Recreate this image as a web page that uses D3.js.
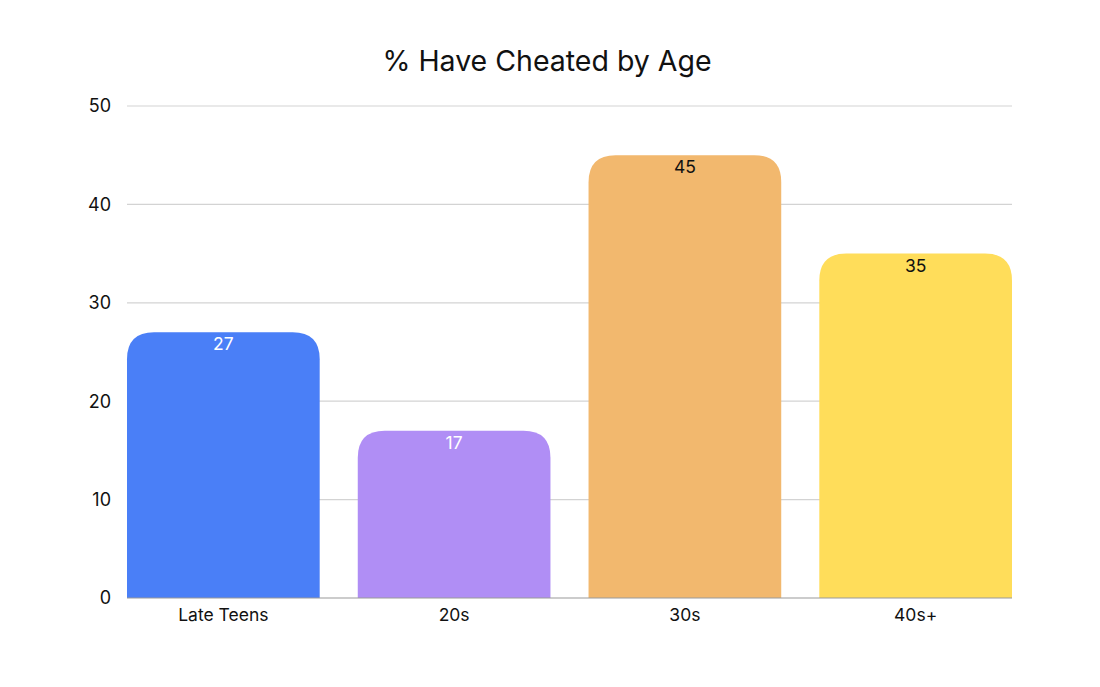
<!DOCTYPE html>
<html>
<head>
<meta charset="utf-8">
<script src="https://cdn.jsdelivr.net/npm/d3@7"></script>
<style>
  html, body { margin: 0; padding: 0; background: #fff; }
  svg { display: block; font-family: Inter, "Open Sans", sans-serif; }
</style>
</head>
<body>
<svg id="chart" width="1100" height="687"></svg>
<script>
// chart data
const categories = ['Late Teens', '20s', '30s', '40s+']
const values = [27, 17, 45, 35]
const barColors = ['#4a7ff7', '#b08ef5', '#f2b86e', '#ffdd5a']
const labelColors = ['#ffffff', '#ffffff', '#111111', '#111111']
const yTicks = [0, 10, 20, 30, 40, 50]

const svg = d3.select('#chart')
const margin = { top: 106, right: 88, bottom: 89, left: 127 }
const width = 1100 - margin.left - margin.right
const height = 687 - margin.top - margin.bottom

const g = svg.append('g').attr('transform', `translate(${margin.left},${margin.top})`)

const x = d3.scaleBand().domain(categories).range([0, width]).paddingInner(0.165).paddingOuter(0)
const y = d3.scaleLinear().domain([0, 50]).range([height, 0])

// title
svg.append('text')
  .attr('x', 547).attr('y', 71)
  .attr('text-anchor', 'middle')
  .attr('font-size', 28.5)
  .attr('fill', '#111')
  .text('% Have Cheated by Age')

// gridlines
g.selectAll('.grid')
  .data(yTicks.filter(d => d > 0))
  .enter().append('line')
  .attr('x1', 0).attr('x2', width)
  .attr('y1', d => y(d)).attr('y2', d => y(d))
  .attr('stroke', '#d3d3d3').attr('stroke-width', 1.2)

// y tick labels
g.selectAll('.ylab')
  .data(yTicks)
  .enter().append('text')
  .attr('x', -16).attr('y', d => y(d))
  .attr('dy', '0.35em')
  .attr('text-anchor', 'end')
  .attr('font-size', 18)
  .attr('fill', '#111')
  .text(d => d)

// rounded-top bars
const r = 27
function barPath(x0, w, yTop, yBot) {
  const rr = Math.min(r, (yBot - yTop), w / 2)
  return `M${x0},${yBot}V${yTop + rr}Q${x0},${yTop} ${x0 + rr},${yTop}H${x0 + w - rr}Q${x0 + w},${yTop} ${x0 + w},${yTop + rr}V${yBot}Z`
}

g.selectAll('.bar')
  .data(values)
  .enter().append('path')
  .attr('d', (d, i) => barPath(x(categories[i]), x.bandwidth(), y(d), y(0)))
  .attr('fill', (d, i) => barColors[i])

// baseline
g.append('line')
  .attr('x1', 0).attr('x2', width)
  .attr('y1', y(0)).attr('y2', y(0))
  .attr('stroke', '#9a9a9a').attr('stroke-width', 1.2)

// value labels
g.selectAll('.val')
  .data(values)
  .enter().append('text')
  .attr('x', (d, i) => x(categories[i]) + x.bandwidth() / 2)
  .attr('y', d => y(d) + 18)
  .attr('text-anchor', 'middle')
  .attr('font-size', 17.5)
  .attr('fill', (d, i) => labelColors[i])
  .text(d => d)

// x labels
g.selectAll('.xlab')
  .data(categories)
  .enter().append('text')
  .attr('x', d => x(d) + x.bandwidth() / 2)
  .attr('y', height + 23)
  .attr('text-anchor', 'middle')
  .attr('font-size', 17.5)
  .attr('fill', '#111')
  .text(d => d)
</script>
</body>
</html>
